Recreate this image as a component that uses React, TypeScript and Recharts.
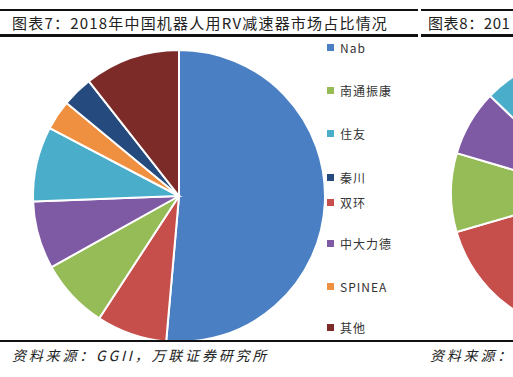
import React from 'react';
import { PieChart, Pie, Cell } from 'recharts';

// legend order as printed in the report
const companies = ['Nab', '南通振康', '住友', '秦川', '双环', '中大力德', 'SPINEA', '其他'];
const share2018 = [51.4, 7.7, 8.3, 3.4, 7.8, 7.5, 3.3, 10.6];
// the neighbouring chart (图表8) is cut off, only its left edge shows
const shareNext = [55.5, 9.1, 7.2, 1.8, 15.0, 7.6, 1.8, 2.0];
// slices are drawn clockwise in this order
const pieOrder = [0, 4, 1, 5, 2, 6, 3, 7];

const colors = ['#4a7fc3', '#95bc56', '#4aaecb', '#244a7e', '#c64f4b', '#7e5aa5', '#ef8f40', '#7d2b29'];
const legendTop = [47, 90, 133, 177, 202, 243, 286, 327];

const leftData = pieOrder.map((i) => ({ name: companies[i], value: share2018[i], color: colors[i] }));
const rightData = pieOrder.map((i) => ({ name: companies[i], value: shareNext[i], color: colors[i] }));

const cjk = '"Noto Sans CJK SC", "Noto Sans", sans-serif';

const App: React.FC = () => {
  return (
    <div style={{ position: 'fixed', left: 0, top: 0, width: 513, height: 377, background: '#fff', overflow: 'hidden', fontFamily: cjk }}>
      {/* header rules */}
      <div style={{ position: 'absolute', left: 0, top: 9, width: 418, height: 2, background: '#111' }} />
      <div style={{ position: 'absolute', left: 421, top: 9, width: 92, height: 2, background: '#111' }} />
      <div style={{ position: 'absolute', left: 0, top: 34, width: 418, height: 3, background: '#111' }} />
      <div style={{ position: 'absolute', left: 421, top: 34, width: 92, height: 3, background: '#111' }} />
      <div style={{ position: 'absolute', left: 12, top: 12, fontSize: 15, lineHeight: '22px', letterSpacing: 1.2, color: '#222', whiteSpace: 'nowrap' }}>
        图表7：2018年中国机器人用RV减速器市场占比情况
      </div>
      <div style={{ position: 'absolute', left: 428, top: 12, fontSize: 15, lineHeight: '22px', letterSpacing: 0.6, color: '#222', whiteSpace: 'nowrap' }}>
        图表8：201
      </div>

      <div style={{ position: 'absolute', left: 0, top: 0 }}>
        <PieChart width={513} height={377}>
          <Pie
            data={leftData}
            dataKey="value"
            nameKey="name"
            cx={174}
            cy={191}
            outerRadius={146}
            startAngle={90}
            endAngle={-270}
            stroke="#fff"
            strokeWidth={2}
            isAnimationActive={false}
          >
            {leftData.map((d) => (
              <Cell key={d.name} fill={d.color} />
            ))}
          </Pie>
          <Pie
            data={rightData}
            dataKey="value"
            nameKey="name"
            cx={586}
            cy={188}
            outerRadius={140}
            startAngle={90}
            endAngle={-270}
            stroke="#fff"
            strokeWidth={2}
            isAnimationActive={false}
          >
            {rightData.map((d) => (
              <Cell key={d.name} fill={d.color} />
            ))}
          </Pie>
        </PieChart>
      </div>

      {/* legend */}
      {companies.map((c, i) => (
        <div key={c} style={{ position: 'absolute', left: 327, top: legendTop[i] - 9, height: 18, display: 'flex', alignItems: 'center', whiteSpace: 'nowrap' }}>
          <span style={{ width: 7, height: 7, background: colors[i], display: 'inline-block', marginRight: 6 }} />
          <span style={{ fontSize: 12, letterSpacing: 1, color: '#333' }}>{c}</span>
        </div>
      ))}

      {/* footer */}
      <div style={{ position: 'absolute', left: 0, top: 340, width: 513, height: 2, background: '#111' }} />
      <div style={{ position: 'absolute', left: 12, top: 344, fontSize: 14, lineHeight: '22px', letterSpacing: 2.8, fontStyle: 'italic', color: '#222', whiteSpace: 'nowrap' }}>
        资料来源：GGII，万联证券研究所
      </div>
      <div style={{ position: 'absolute', left: 430, top: 344, fontSize: 14, lineHeight: '22px', letterSpacing: 2.8, fontStyle: 'italic', color: '#222', whiteSpace: 'nowrap' }}>
        资料来源：
      </div>
    </div>
  );
};

export default App;
